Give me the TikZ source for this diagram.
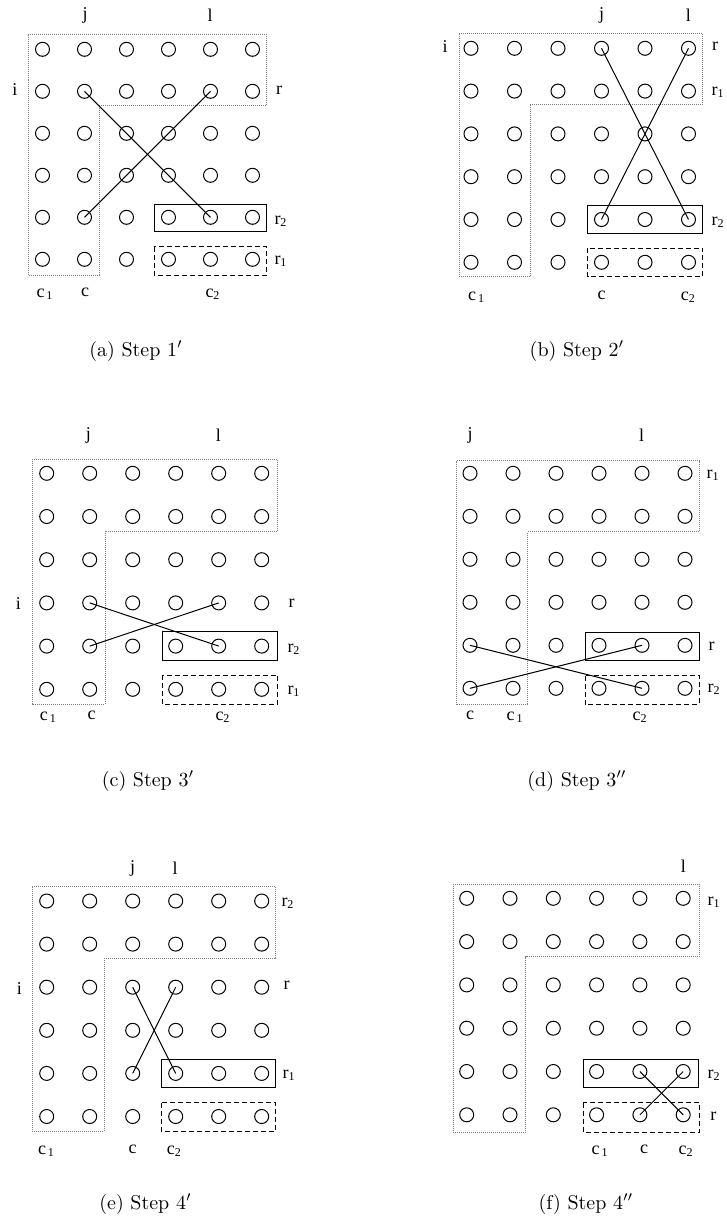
\documentclass[tikz,border=0pt]{standalone}
\usepackage{fontspec}
\usepackage{tikz}
\usetikzlibrary{arrows.meta, calc}
\newfontfamily\lblfont{Liberation Serif}
\tikzset{
  dot/.style={circle, draw, line width=0.5pt, minimum size=7pt, inner sep=0pt},
  region/.style={gray, line width=0.5pt, dash pattern=on 0.5pt off 0.5pt},
  pivotbox/.style={draw, line width=0.5pt},
  candbox/.style={draw, line width=0.5pt, dash pattern=on 2.5pt off 1.5pt},
  swapline/.style={line width=0.5pt},
  lbl/.style={font=\lblfont\fontsize{9}{10}\selectfont, inner sep=0pt},
  captext/.style={font=\fontsize{10}{12}\selectfont, inner sep=0pt}
}
\newcommand{\cone}{c\kern1pt\textsubscript{1}}

\begin{document}
\begin{tikzpicture}[x=0.5pt, y=-0.5pt]
  \useasboundingbox (0,0) rectangle (727,1232);

  % --- (a) Step 1' ---
  \foreach \r in {1,...,6}
    \foreach \c in {1,...,6}
      \node[dot] (a-\r-\c) at ({42.5+42*(\c-1)}, {49.3+42*(\r-1)}) {};
  \draw[region] (28.3,34.3) -- (266.7,34.3) -- (266.7,105) -- (99,105) -- (99,275) -- (28.3,275) -- cycle;
  \draw[pivotbox] (154.3,204) rectangle (266.7,231.7);
  \draw[candbox] (154.3,246.7) rectangle (266.7,275);
  \draw[swapline] (a-2-2.center) -- (a-5-5.center);
  \draw[swapline] (a-5-2.center) -- (a-2-5.center);
  \node[lbl] (a-j) at (85,15) {j};
  \node[lbl] (a-l) at (210,15) {l};
  \node[lbl] (a-i) at (15,90) {i};
  \node[lbl] (a-r) at (279,90) {r};
  \node[lbl] (a-r2) at (281,221) {r\textsubscript{2}};
  \node[lbl] (a-r1) at (281,261) {r\textsubscript{1}};
  \node[lbl] (a-c1) at (45,294) {\cone};
  \node[lbl] (a-c) at (85,292) {c};
  \node[lbl] (a-c2) at (213,294) {c\textsubscript{2}};
  \node[captext] (a-cap) at (136,351) {(a) Step 1$'$};

  % --- (b) Step 2' ---
  \foreach \r in {1,...,6}
    \foreach \c in {1,...,6}
      \node[dot] (b-\r-\c) at ({471+43.5*(\c-1)}, {48.3+42.8*(\r-1)}) {};
  \draw[region] (459.3,33.3) -- (702.7,33.3) -- (702.7,104) -- (530,104) -- (530,276.7) -- (459.3,276.7) -- cycle;
  \draw[pivotbox] (587.7,205.7) rectangle (702.7,233.3);
  \draw[candbox] (587.7,248.3) rectangle (702.7,276.7);
  \draw[swapline] (b-1-4.center) -- (b-5-6.center);
  \draw[swapline] (b-1-6.center) -- (b-5-4.center);
  \node[lbl] (b-j) at (601.7,15) {j};
  \node[lbl] (b-l) at (688.3,15) {l};
  \node[lbl] (b-i) at (445,46.7) {i};
  \node[lbl] (b-r) at (715,46.7) {r};
  \node[lbl] (b-r1) at (718,92) {r\textsubscript{1}};
  \node[lbl] (b-r2) at (718,222) {r\textsubscript{2}};
  \node[lbl] (b-c1) at (476.7,297) {\cone};
  \node[lbl] (b-c) at (601.7,295) {c};
  \node[lbl] (b-c2) at (688.3,297) {c\textsubscript{2}};
  \node[captext] (b-cap) at (577,351) {(b) Step 2$'$};

  % --- (c) Step 3' ---
  \foreach \r in {1,...,6}
    \foreach \c in {1,...,6}
      \node[dot] (c-\r-\c) at ({46.7+43*(\c-1)}, {473.3+43.2*(\r-1)}) {};
  \draw[region] (32.3,459) -- (277.7,459) -- (277.7,531) -- (105,531) -- (105,704.3) -- (32.3,704.3) -- cycle;
  \draw[pivotbox] (162.3,631.7) rectangle (277.7,660);
  \draw[candbox] (162.3,675) rectangle (277.7,704.3);
  \draw[swapline] (c-4-2.center) -- (c-5-5.center);
  \draw[swapline] (c-5-2.center) -- (c-4-5.center);
  \node[lbl] (c-j) at (88.3,435) {j};
  \node[lbl] (c-l) at (218.3,435) {l};
  \node[lbl] (c-i) at (18.3,603.3) {i};
  \node[lbl] (c-r) at (291.7,603.3) {r};
  \node[lbl] (c-r2) at (294,649) {r\textsubscript{2}};
  \node[lbl] (c-r1) at (294,691) {r\textsubscript{1}};
  \node[lbl] (c-c1) at (48.3,717) {\cone};
  \node[lbl] (c-c) at (91.7,715) {c};
  \node[lbl] (c-c2) at (223,717) {c\textsubscript{2}};
  \node[captext] (c-cap) at (148,781) {(c) Step 3$'$};

  % --- (d) Step 3'' ---
  \foreach \r in {1,...,6}
    \foreach \c in {1,...,6}
      \node[dot] (d-\r-\c) at ({470+43*(\c-1)}, {473.3+43*(\r-1)}) {};
  \draw[region] (456.7,460.7) -- (699.3,460.7) -- (699.3,531.7) -- (527.7,531.7) -- (527.7,704.3) -- (456.7,704.3) -- cycle;
  \draw[pivotbox] (585,632.7) rectangle (699.3,660.7);
  \draw[candbox] (585,675.7) rectangle (699.3,704.3);
  \draw[swapline] (d-5-1.center) -- (d-6-5.center);
  \draw[swapline] (d-6-1.center) -- (d-5-5.center);
  \node[lbl] (d-j) at (470,435) {j};
  \node[lbl] (d-l) at (641.7,435) {l};
  \node[lbl] (d-r1) at (713,475) {r\textsubscript{1}};
  \node[lbl] (d-r) at (711.7,646.7) {r};
  \node[lbl] (d-r2) at (714,689) {r\textsubscript{2}};
  \node[lbl] (d-c) at (470,715) {c};
  \node[lbl] (d-c1) at (515,717) {\cone};
  \node[lbl] (d-c2) at (640,717) {c\textsubscript{2}};
  \node[captext] (d-cap) at (577,781) {(d) Step 3$''$};

  % --- (e) Step 4' ---
  \foreach \r in {1,...,6}
    \foreach \c in {1,...,6}
      \node[dot] (e-\r-\c) at ({46.7+43*(\c-1)}, {901+43.1*(\r-1)}) {};
  \draw[region] (32.3,886.7) -- (275.7,886.7) -- (275.7,958.3) -- (104.3,958.3) -- (104.3,1131) -- (32.3,1131) -- cycle;
  \draw[pivotbox] (161,1059.3) rectangle (275.7,1087.7);
  \draw[candbox] (161,1102.7) rectangle (275.7,1131);
  \draw[swapline] (e-3-3.center) -- (e-5-4.center);
  \draw[swapline] (e-3-4.center) -- (e-5-3.center);
  \node[lbl] (e-j) at (132.7,868.3) {j};
  \node[lbl] (e-l) at (175,868.3) {l};
  \node[lbl] (e-i) at (19.3,988.3) {i};
  \node[lbl] (e-r2) at (288,903) {r\textsubscript{2}};
  \node[lbl] (e-r) at (286.7,985) {r};
  \node[lbl] (e-r1) at (289,1075) {r\textsubscript{1}};
  \node[lbl] (e-c1) at (46.5,1151) {\cone};
  \node[lbl] (e-c) at (132.6,1149) {c};
  \node[lbl] (e-c2) at (174.4,1151) {c\textsubscript{2}};
  \node[captext] (e-cap) at (145.5,1204) {(e) Step 4$'$};

  % --- (f) Step 4'' ---
  \foreach \r in {1,...,6}
    \foreach \c in {1,...,6}
      \node[dot] (f-\r-\c) at ({466.7+43.3*(\c-1)}, {898.3+43.3*(\r-1)}) {};
  \draw[region] (453.3,884) -- (699.3,884) -- (699.3,956.7) -- (525.7,956.7) -- (525.7,1132.3) -- (453.3,1132.3) -- cycle;
  \draw[pivotbox] (583.3,1059.3) rectangle (698.3,1087.7);
  \draw[candbox] (583.3,1102.7) rectangle (699.3,1132.3);
  \draw[swapline] (f-5-5.center) -- (f-6-6.center);
  \draw[swapline] (f-5-6.center) -- (f-6-5.center);
  \node[lbl] (f-l) at (683.3,866.7) {l};
  \node[lbl] (f-r1) at (714,902) {r\textsubscript{1}};
  \node[lbl] (f-r2) at (714,1075) {r\textsubscript{2}};
  \node[lbl] (f-r) at (713.3,1116.7) {r};
  \node[lbl] (f-c1) at (600,1151) {\cone};
  \node[lbl] (f-c) at (644,1149) {c};
  \node[lbl] (f-c2) at (686,1151) {c\textsubscript{2}};
  \node[captext] (f-cap) at (586,1204) {(f) Step 4$''$};
\end{tikzpicture}
\end{document}
